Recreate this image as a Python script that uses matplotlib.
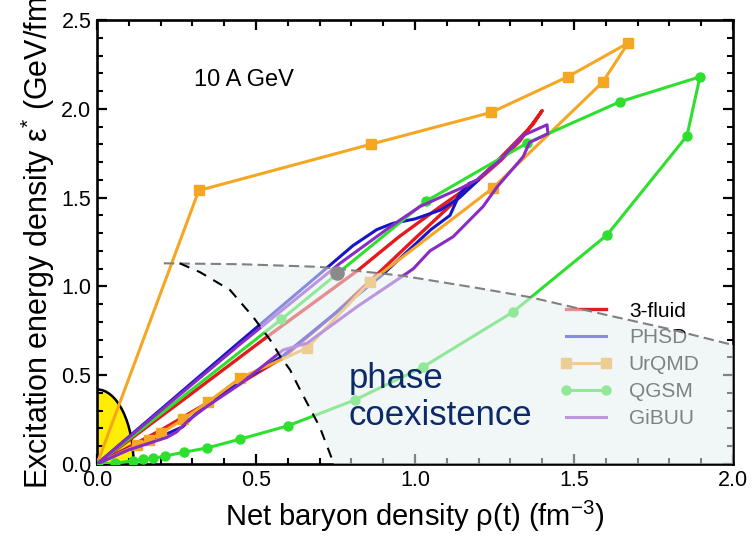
import matplotlib
matplotlib.use("Agg")
import matplotlib.pyplot as plt
from matplotlib.patches import Ellipse, Polygon
from matplotlib.ticker import MultipleLocator

plt.rcParams["font.family"] = ["Liberation Sans", "DejaVu Sans"]
plt.rcParams["mathtext.default"] = "regular"

# trajectories in the (rho, eps*) plane at 10 A GeV
fluid3_rho = [0, 0.27, 0.53, 0.82, 0.95, 1.08, 1.20, 1.27, 1.33, 1.40,
              1.37, 1.25, 1.12, 1.00, 0.90, 0.75, 0.585, 0.40, 0.20, 0]
fluid3_eps = [0, 0.36, 0.71, 1.09, 1.28, 1.45, 1.60, 1.71, 1.82, 1.99,
              1.91, 1.69, 1.47, 1.27, 1.10, 0.85, 0.60, 0.40, 0.19, 0]

phsd_rho = [0, 0.45, 0.733, 0.805, 0.88, 0.93, 1.00, 1.08, 1.14, 1.20,
            1.17, 1.14, 1.11, 1.05, 0.99, 0.90, 0.75, 0.585, 0.45, 0.32,
            0.27, 0.22, 0.15, 0]
phsd_eps = [0, 0.69, 1.12, 1.23, 1.32, 1.355, 1.38, 1.43, 1.50, 1.60,
            1.58, 1.52, 1.40, 1.32, 1.22, 1.07, 0.85, 0.61, 0.46, 0.30,
            0.21, 0.17, 0.13, 0]

urqmd_rho = [0, 0.32, 0.86, 1.24, 1.48, 1.67, 1.59, 1.245, 0.858, 0.66,
             0.45, 0.35, 0.27, 0.20, 0.163, 0.126, 0]
urqmd_eps = [0, 1.54, 1.80, 1.98, 2.18, 2.37, 2.15, 1.554, 1.025, 0.653,
             0.484, 0.35, 0.251, 0.172, 0.135, 0.107, 0]

qgsm_rho = [0, 0.057, 0.114, 0.146, 0.177, 0.214, 0.272, 0.345, 0.45, 0.60,
            0.81, 1.025, 1.308, 1.604, 1.855, 1.896, 1.645, 1.352, 1.035,
            0.58, 0]
qgsm_eps = [0, 0.004, 0.019, 0.026, 0.032, 0.045, 0.066, 0.09, 0.14, 0.215,
            0.36, 0.546, 0.856, 1.29, 1.847, 2.18, 2.04, 1.807, 1.48,
            0.815, 0]

gibuu_rho = [0, 0.45, 0.764, 0.91, 0.953, 1.016, 1.09, 1.141, 1.195, 1.267,
             1.34, 1.415, 1.418, 1.36, 1.34, 1.258, 1.214, 1.12, 1.047, 0.995,
             0.975, 0.818, 0.66, 0.585, 0.45, 0.35, 0.29, 0.25, 0.22, 0.10, 0]
gibuu_eps = [0, 0.675, 1.13, 1.32, 1.374, 1.45, 1.51, 1.55, 1.60, 1.71,
             1.85, 1.91, 1.86, 1.81, 1.73, 1.56, 1.45, 1.28, 1.20, 1.10,
             1.075, 0.886, 0.68, 0.642, 0.45, 0.33, 0.25, 0.18, 0.15, 0.08, 0]

# phase boundaries
upper_rho = [0.21, 0.45, 0.70, 0.96, 1.20, 1.36, 1.60, 1.80, 2.00]
upper_eps = [1.13, 1.125, 1.11, 1.06, 0.99, 0.94, 0.84, 0.76, 0.67]
hadron_rho = [0.21, 0.26, 0.324, 0.418, 0.49, 0.544, 0.575, 0.607, 0.638, 0.70, 0.745]
hadron_eps = [1.13, 1.13, 1.08, 0.98, 0.83, 0.70, 0.61, 0.53, 0.42, 0.21, 0.0]
crit_rho, crit_eps = 0.755, 1.075

RED, BLUE, ORANGE, GREEN, PURPLE = "#e41a1c", "#1616c8", "#f5a623", "#2ee02e", "#8a2bc6"

fig = plt.figure(figsize=(7.55, 5.36), dpi=100)
ax = fig.add_axes([0.1285, 0.1343, 0.8424, 0.8284])
ax.set_xlim(0, 2.0)
ax.set_ylim(0, 2.5)

ax.add_patch(Ellipse((0, 0), 0.23, 0.84, facecolor="#ffee00", edgecolor="black",
                     lw=1.8, zorder=1))

lw = 2.2
ax.plot(fluid3_rho, fluid3_eps, color=RED, lw=lw + 0.2, zorder=3, label="3-fluid")
ax.plot(phsd_rho, phsd_eps, color=BLUE, lw=lw, zorder=3, label="PHSD")
ax.plot(urqmd_rho, urqmd_eps, color=ORANGE, lw=lw, marker="s", ms=7, zorder=3, label="UrQMD")
ax.plot(qgsm_rho, qgsm_eps, color=GREEN, lw=lw, marker="o", ms=6.5, zorder=3, label="QGSM")
ax.plot(gibuu_rho, gibuu_eps, color=PURPLE, lw=lw, zorder=3.1, label="GiBUU")

# mixed-phase region washes out whatever lies beneath it
region = list(zip(upper_rho, upper_eps)) + [(2.0, 0.0)] + list(zip(hadron_rho[::-1], hadron_eps[::-1]))
ax.add_patch(Polygon(region, closed=True, facecolor=(0.90, 0.936, 0.95), alpha=0.55,
                     edgecolor="none", zorder=6))

ax.plot(upper_rho, upper_eps, color="#808080", lw=1.5, ls=(0, (5, 2.5)), zorder=7)
ax.plot(hadron_rho[1:], hadron_eps[1:], color="black", lw=1.5, ls=(0, (5, 4)), zorder=7)
ax.plot([crit_rho], [crit_eps], "o", color="#8a8a8a", ms=9.5, zorder=7)

ax.text(0.79, 0.43, "phase", color="#0c2a6a", fontsize=25, zorder=8)
ax.text(0.79, 0.22, "coexistence", color="#0c2a6a", fontsize=25, zorder=8)
ax.text(0.462, 2.16, "10 A GeV", fontsize=17, ha="center", va="center")

leg = ax.legend(loc="upper left", bbox_to_anchor=(0.728, 0.366), frameon=False,
                fontsize=15, handlelength=2.5, handletextpad=0.8, labelspacing=0.38,
                borderpad=0, borderaxespad=0, numpoints=2)
leg.set_zorder(5)

ax.xaxis.set_major_locator(MultipleLocator(0.5))
ax.xaxis.set_minor_locator(MultipleLocator(0.1))
ax.yaxis.set_major_locator(MultipleLocator(0.5))
ax.yaxis.set_minor_locator(MultipleLocator(0.1))
ax.tick_params(which="both", direction="in", top=True, right=True, labelsize=15.5)
ax.tick_params(which="major", length=7.5, width=1.6, pad=4)
ax.tick_params(which="minor", length=4.5, width=1.5)
for s in ax.spines.values():
    s.set_linewidth(1.9)

ax.set_xlabel(r"Net baryon density ρ(t) (fm$^{-3}$)", fontsize=21, labelpad=6)
ax.set_ylabel(r"Excitation energy density ε$^{*}$ (GeV/fm$^{3}$)", fontsize=22)
ax.yaxis.set_label_coords(-0.063, 0.525)

fig.savefig("out.png", dpi=100)
